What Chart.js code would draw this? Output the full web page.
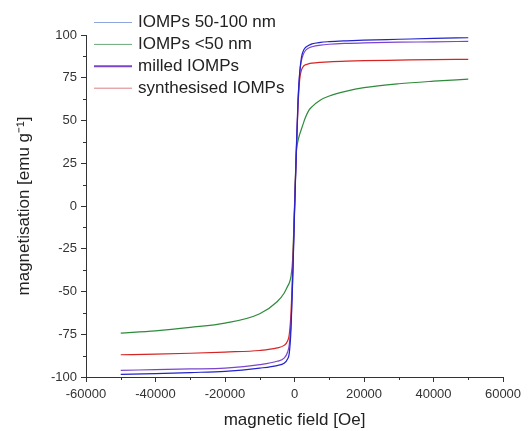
<!DOCTYPE html>
<html>
<head>
<meta charset="utf-8">
<script src="https://cdn.jsdelivr.net/npm/chart.js@4"></script>
<style>
  html, body { margin: 0; padding: 0; background: #fff; }
  #wrap { width: 532px; height: 431px; position: relative; }
</style>
</head>
<body>
<div id="wrap"><canvas id="chart" width="532" height="431"></canvas></div>
<script>
// applied field [Oe]
const field = [-50000, -40000, -30000, -20000, -10000, -5000, -3000, -2000, -1500, -1000, -500, 0,
  500, 1000, 1500, 2000, 2500, 3000, 4000, 5000, 7500, 10000, 15000, 20000, 30000, 40000, 50000];

// magnetisation [emu/g]
const iomps50_100 = [-98.5, -98, -97.4, -96.7, -94.8, -93.3, -92, -89.5, -86, -72, -42, -5,
  30, 60, 78, 87, 90.5, 92.3, 93.8, 94.8, 95.7, 96.1, 96.6, 97, 97.5, 98, 98.4];
const iompsUnder50 = [-74.3, -73, -71, -68.5, -63, -56, -51, -47, -45, -41, -30, 0,
  30, 38, 42, 45, 48, 51, 55.5, 58, 62, 64.3, 67.2, 69.2, 71.5, 73, 74.2];
const milledIomps = [-96.1, -95.7, -95.3, -94.8, -92.8, -90.8, -89, -85.5, -81, -68, -40, -3,
  32, 62, 78, 85, 88.5, 90.5, 92.3, 93.1, 94.1, 94.6, 95.1, 95.4, 95.8, 96, 96.3];
const synthIomps = [-87, -86.6, -86.1, -85.4, -84.5, -83, -81.5, -79, -75, -62, -35, -2,
  30, 58, 74, 79.5, 81.5, 82.4, 83.1, 83.5, 84, 84.3, 84.7, 85, 85.3, 85.6, 85.8];

const seriesNames = ['IOMPs 50-100 nm', 'IOMPs <50 nm', 'milled IOMPs', 'synthesised IOMPs'];
const seriesData = [iomps50_100, iompsUnder50, milledIomps, synthIomps];
const seriesColors = ['#2323c8', '#2f8a3c', '#7a45cc', '#d62424'];
const legendColors = ['#8ea6de', '#6aa878', '#7a45cc', '#d98080'];
const legendWidths = [1, 1, 2, 1];

const font = 'Liberation Sans, Arial, sans-serif';

const datasets = seriesData.map((vals, i) => ({
  label: seriesNames[i],
  data: field.map((x, j) => ({ x: x, y: vals[j] })),
  borderColor: seriesColors[i],
  borderWidth: 1.2,
  pointRadius: 0,
  fill: false,
  cubicInterpolationMode: 'monotone'
}));
// draw order: green, red, purple, blue on top
const order = [1, 3, 2, 0];
order.forEach((idx, k) => { datasets[idx].order = 4 - k; });

const minorTicks = {
  id: 'minorTicks',
  afterDraw(chart) {
    const c = chart.ctx;
    const xs = chart.scales.x, ys = chart.scales.y;
    c.save();
    c.strokeStyle = '#333';
    c.lineWidth = 1;
    c.beginPath();
    for (let v = -50000; v <= 50000; v += 20000) {
      const px = Math.round(xs.getPixelForValue(v)) + 0.5;
      c.moveTo(px, xs.top); c.lineTo(px, xs.top + 3);
    }
    for (let v = -87.5; v <= 87.5; v += 25) {
      const py = Math.round(ys.getPixelForValue(v)) + 0.5;
      c.moveTo(ys.right, py); c.lineTo(ys.right - 3, py);
    }
    c.stroke();
    c.restore();
  }
};

const insideLegend = {
  id: 'insideLegend',
  afterDraw(chart) {
    const c = chart.ctx;
    c.save();
    c.font = '17px ' + font;
    c.textBaseline = 'middle';
    c.fillStyle = '#222';
    chart.data.datasets.forEach((ds, i) => {
      const y = 22.5 + i * 21.9;
      c.strokeStyle = legendColors[i];
      c.lineWidth = legendWidths[i];
      c.beginPath();
      c.moveTo(94, y); c.lineTo(132, y);
      c.stroke();
      c.fillText(ds.label, 138, y);
    });
    c.restore();
  }
};

const ctx = document.getElementById('chart').getContext('2d');
const chart = new Chart(ctx, {
  type: 'line',
  data: { datasets: datasets },
  options: {
    responsive: false,
    animation: false,
    layout: { padding: { left: 14, right: 29, top: 35, bottom: 0 } },
    plugins: {
      legend: { display: false },
      tooltip: { enabled: false }
    },
    scales: {
      x: {
        type: 'linear',
        min: -60000, max: 60000,
        afterFit: (s) => { s.height = 54; },
        border: { color: '#333', width: 1 },
        grid: {
          drawOnChartArea: false, drawTicks: true, tickLength: 5,
          tickColor: (c) => (c.tick && c.tick.value % 20000 === 0 ? '#333' : 'rgba(0,0,0,0)')
        },
        ticks: {
          stepSize: 10000,
          autoSkip: false,
          maxRotation: 0,
          padding: 5,
          color: '#333',
          font: { family: font, size: 13 },
          callback: (v) => (v % 20000 === 0 ? String(v) : '')
        },
        title: {
          display: true,
          text: 'magnetic field [Oe]',
          color: '#222',
          font: { family: font, size: 17 },
          padding: { top: 0, bottom: 0 }
        }
      },
      y: {
        type: 'linear',
        min: -100, max: 100,
        afterFit: (s) => { s.width = 72; },
        border: { color: '#333', width: 1 },
        grid: {
          drawOnChartArea: false, drawTicks: true, tickLength: 5,
          tickColor: (c) => (c.tick && c.tick.value % 25 === 0 ? '#333' : 'rgba(0,0,0,0)')
        },
        ticks: {
          stepSize: 12.5,
          autoSkip: false,
          padding: 4,
          color: '#333',
          font: { family: font, size: 13 },
          callback: (v) => (v % 25 === 0 ? String(v) : '')
        },
        title: {
          display: true,
          text: 'magnetisation [emu g\u207B\u00B9]',
          color: '#222',
          font: { family: font, size: 17 },
          padding: { top: 0, bottom: 0 }
        }
      }
    }
  },
  plugins: [minorTicks, insideLegend]
});
</script>
</body>
</html>
